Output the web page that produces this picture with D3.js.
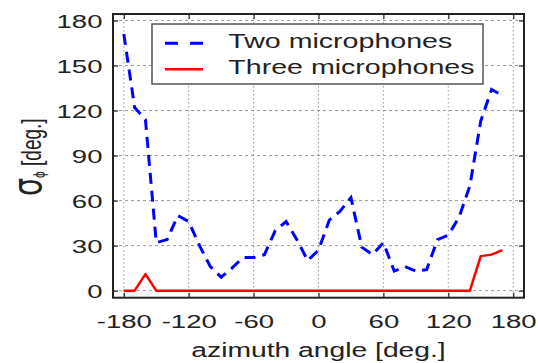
<!DOCTYPE html>
<html>
<head>
<meta charset="utf-8">
<script src="https://cdn.jsdelivr.net/npm/d3@7"></script>
<style>
  html, body { margin: 0; padding: 0; background: #fff; }
  svg { display: block; }
  text { font-family: "Liberation Sans", Arial, Helvetica, sans-serif; fill: #222; }
</style>
</head>
<body>
<script>
// ---- data ----
const angles = [-180,-170,-160,-150,-140,-130,-120,-110,-100,-90,-80,-70,-60,-50,-40,-30,-20,-10,
                0,10,20,30,40,50,60,70,80,90,100,110,120,130,140,150,160,170];
const twoMics = [171,122,114,32,34,50,46,30,16,9,15,22,22,24,40,46,34,20,
                 27,47,53,62,29,24,32,13,16,13,14,34,37,49,70,113,134,130];
const threeMics = [0,0,11,0,0,0,0,0,0,0,0,0,0,0,0,0,0,0,
                   0,0,0,0,0,0,0,0,0,0,0,0,0,0,0,23,24,27];
const xTicks = [-180,-120,-60,0,60,120,180];
const yTicks = [0,30,60,90,120,150,180];
const seriesNames = ["Two microphones", "Three microphones"];
const xLabel = "azimuth angle [deg.]";

const W = 538, H = 363;
const SX = 1.45; // horizontal text stretch seen in the reference
const L = 113, R = 524, T = 14, B = 297.7;

const svg = d3.select("body").append("svg").attr("width", W).attr("height", H);

const x = d3.scaleLinear().domain([-190, 190]).range([L, R]);
const y = d3.scaleLinear().domain([-4.7, 184.3]).range([B, T]);
const fmt = d => String(d);

// grid
const grid = svg.append("g");
grid.selectAll("line.v").data(xTicks).join("line")
  .attr("x1", d => x(d)).attr("x2", d => x(d)).attr("y1", T).attr("y2", B)
  .attr("stroke", "#999").attr("stroke-width", 1).attr("stroke-dasharray", "1.5,2.5");
grid.selectAll("line.h").data(yTicks).join("line")
  .attr("y1", d => y(d)).attr("y2", d => y(d)).attr("x1", L).attr("x2", R)
  .attr("stroke", "#999").attr("stroke-width", 1).attr("stroke-dasharray", "3,3");

// inward ticks on all sides
const tickLen = 5;
svg.append("g").attr("transform", `translate(0,${B})`)
  .call(d3.axisBottom(x).tickValues(xTicks).tickSize(-tickLen).tickFormat(""))
  .call(g => g.select(".domain").remove());
svg.append("g").attr("transform", `translate(0,${T})`)
  .call(d3.axisTop(x).tickValues(xTicks).tickSize(-tickLen).tickFormat(""))
  .call(g => g.select(".domain").remove());
svg.append("g").attr("transform", `translate(${L},0)`)
  .call(d3.axisLeft(y).tickValues(yTicks).tickSize(-tickLen).tickFormat(""))
  .call(g => g.select(".domain").remove());
svg.append("g").attr("transform", `translate(${R},0)`)
  .call(d3.axisRight(y).tickValues(yTicks).tickSize(-tickLen).tickFormat(""))
  .call(g => g.select(".domain").remove());
svg.selectAll(".tick line").attr("stroke", "#222").attr("stroke-width", 1.2);

// tick labels
const xa = svg.append("g").attr("transform", `translate(0,${B})`)
  .call(d3.axisBottom(x).tickValues(xTicks).tickSize(0).tickFormat(fmt));
xa.select(".domain").remove();
xa.selectAll("text").attr("font-size", 19).attr("y", 0).attr("dy", 0)
  .attr("transform", `translate(0,30.5) scale(${SX},1)`).attr("fill", "#222")
  .style("font-family", '"Liberation Sans", Arial, Helvetica, sans-serif');

const ya = svg.append("g").attr("transform", `translate(${L},0)`)
  .call(d3.axisLeft(y).tickValues(yTicks).tickSize(0).tickFormat(fmt));
ya.select(".domain").remove();
ya.selectAll("text").attr("font-size", 19).attr("x", 0).attr("dy", "0.36em")
  .attr("transform", `translate(-10.5,0) scale(${SX},1)`).attr("fill", "#222")
  .style("font-family", '"Liberation Sans", Arial, Helvetica, sans-serif');

// lines
const line = (vals) => d3.line().x((d, i) => x(angles[i])).y(d => y(d))(vals);
svg.append("path").attr("d", line(threeMics)).attr("fill", "none")
  .attr("stroke", "#ff0000").attr("stroke-width", 2.5).attr("stroke-linejoin", "round");
svg.append("path").attr("d", line(twoMics)).attr("fill", "none")
  .attr("stroke", "#0000ff").attr("stroke-width", 3).attr("stroke-dasharray", "11,7");

// axes box
svg.append("rect").attr("x", L).attr("y", T).attr("width", R - L).attr("height", B - T)
  .attr("fill", "none").attr("stroke", "#222").attr("stroke-width", 2);

// legend
const lg = svg.append("g");
lg.append("rect").attr("x", 152).attr("y", 24).attr("width", 331).attr("height", 60)
  .attr("fill", "#fff").attr("stroke", "#555").attr("stroke-width", 1.5);
lg.append("line").attr("x1", 165).attr("x2", 203).attr("y1", 43.3).attr("y2", 43.3)
  .attr("stroke", "#0000ff").attr("stroke-width", 3).attr("stroke-dasharray", "13,12");
lg.append("line").attr("x1", 165).attr("x2", 203).attr("y1", 69.3).attr("y2", 69.3)
  .attr("stroke", "#ff0000").attr("stroke-width", 2.5);
lg.append("text").attr("transform", `translate(228.3,48.3) scale(1.43,1)`)
  .attr("font-size", 20).text(seriesNames[0]);
lg.append("text").attr("transform", `translate(228.3,74) scale(1.43,1)`)
  .attr("font-size", 20).text(seriesNames[1]);

// x label
svg.append("text").attr("transform", `translate(${(L + R) / 2},356.5) scale(${SX},1)`)
  .attr("text-anchor", "middle").attr("font-size", 19.5).text(xLabel);

// y label: sigma_phi [deg.]
const yl = svg.append("text").attr("transform", `translate(40.5,196) scale(${SX},1) rotate(-90)`);
yl.append("tspan").attr("font-size", 28.5).style("font-family", '"DejaVu Sans", sans-serif').text("σ");
yl.append("tspan").attr("font-size", 12).attr("dy", 3).text("ϕ");
yl.append("tspan").attr("font-size", 19).attr("dy", -3).text(" [deg.]");
</script>
</body>
</html>
